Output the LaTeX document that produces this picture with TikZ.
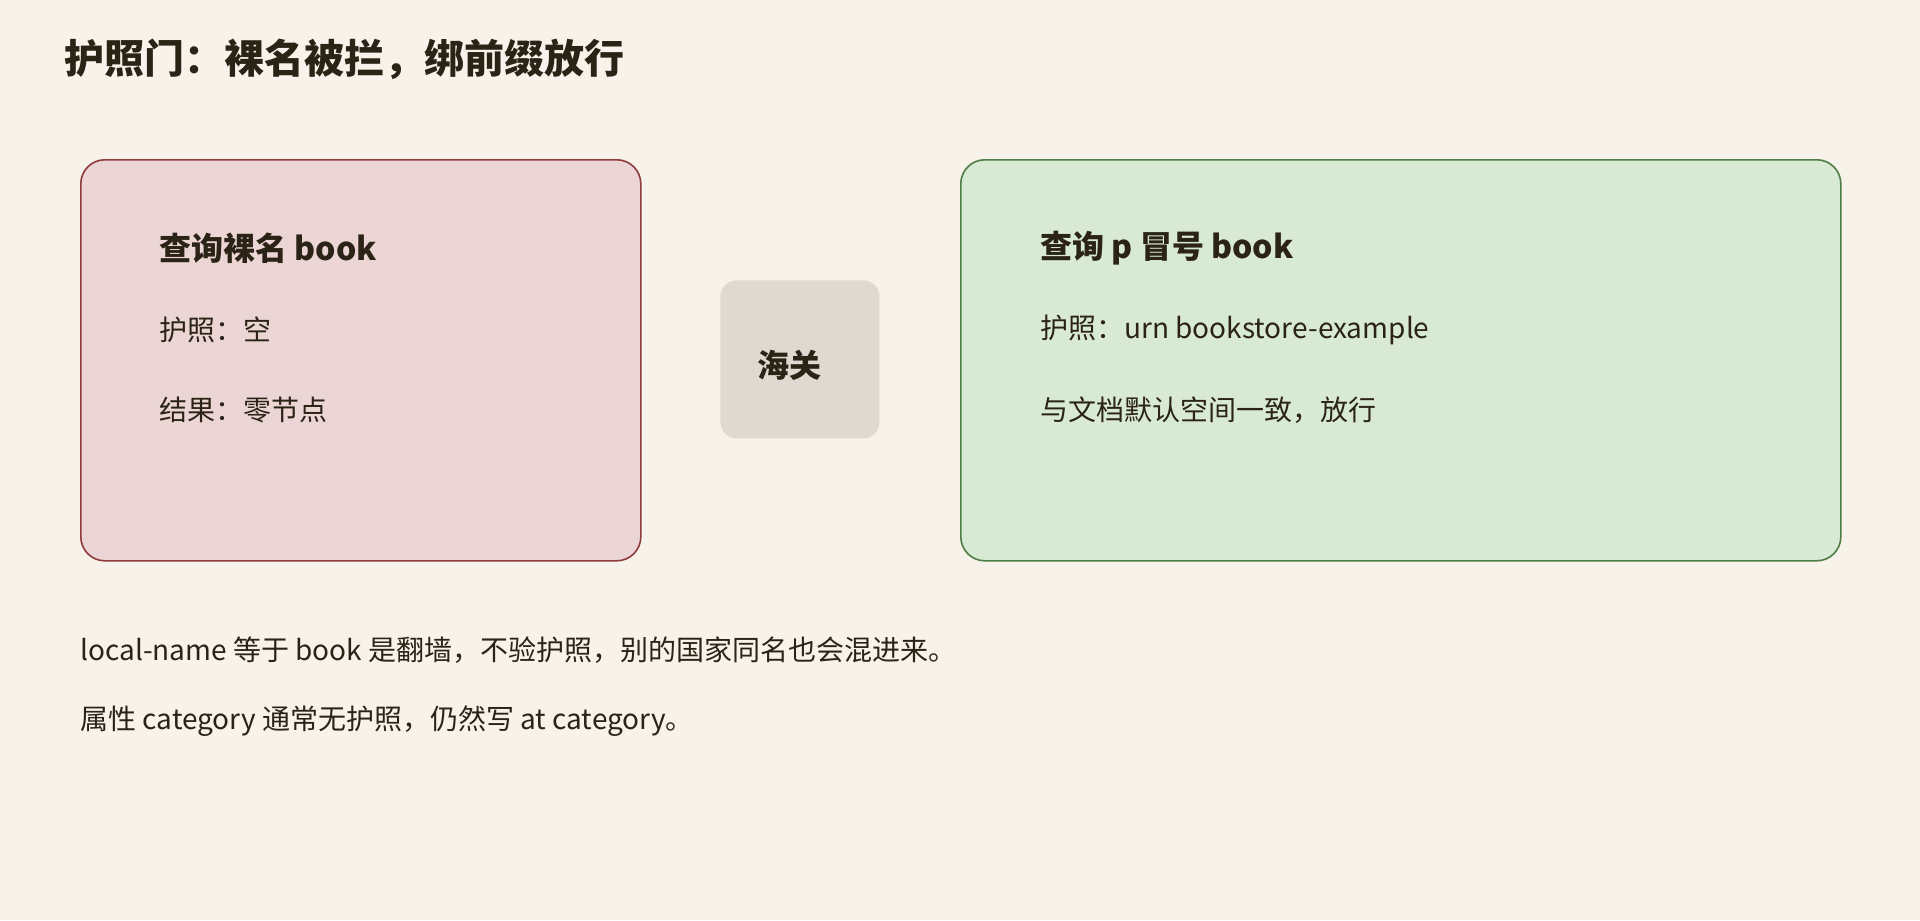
\documentclass[tikz,border=0pt]{standalone}
\usepackage{fontspec}
\setmainfont{Noto Sans CJK SC}
\definecolor{bg}{HTML}{F7F2EA}
\definecolor{ink}{HTML}{2B2416}
\definecolor{redfill}{HTML}{EBD5D5}
\definecolor{redline}{HTML}{8E3B3B}
\definecolor{greenfill}{HTML}{D8EAD4}
\definecolor{greenline}{HTML}{4E7D45}
\definecolor{grayfill}{HTML}{DFD9D2}
\tikzset{
  panel/.style={draw, line width=0.8pt, rounded corners=12pt, anchor=north west, inner sep=0pt},
  redbox/.style={panel, fill=redfill, draw=redline},
  greenbox/.style={panel, fill=greenfill, draw=greenline},
  gatebox/.style={fill=grayfill, rounded corners=8pt, anchor=north west, inner sep=0pt, minimum width=79.5pt, minimum height=79pt},
  txt/.style={anchor=west, inner sep=0pt, text=ink, font=\fontsize{14}{17}\selectfont},
  head/.style={anchor=west, inner sep=0pt, text=ink, font=\fontsize{16}{19}\selectfont\bfseries},
  ttl/.style={anchor=west, inner sep=0pt, text=ink, font=\fontsize{20}{24}\selectfont\bfseries}
}
\begin{document}
\begin{tikzpicture}[x=0.5pt,y=-0.5pt]
\fill[bg] (0,0) rectangle (1920,920);
\useasboundingbox (0,0) rectangle (1920,920);
\node[ttl] (title) at (64,59) {护照门：裸名被拦，绑前缀放行};
\node[redbox, minimum width=280pt, minimum height=200.5pt] (bare) at (80,159) {};
\node[greenbox, minimum width=440pt, minimum height=200.5pt] (pref) at (960,159) {};
\node[gatebox] (gate) at (720,280) {};
\node[head] (bareh) at (159,248) {查询裸名 book};
\node[txt] (bare1) at (159,330) {护照：空};
\node[txt] (bare2) at (159,410) {结果：零节点};
\node[head] (gatet) at (757,365) {海关};
\node[head] (prefh) at (1040,248) {查询 p 冒号 book};
\node[txt] (pref1) at (1040,330) {护照：urn bookstore-example};
\node[txt] (pref2) at (1040,410) {与文档默认空间一致，放行};
\node[txt] (note1) at (80,650) {local-name 等于 book 是翻墙，不验护照，别的国家同名也会混进来。};
\node[txt] (note2) at (80,721) {属性 category 通常无护照，仍然写 at category。};
\end{tikzpicture}
\end{document}
